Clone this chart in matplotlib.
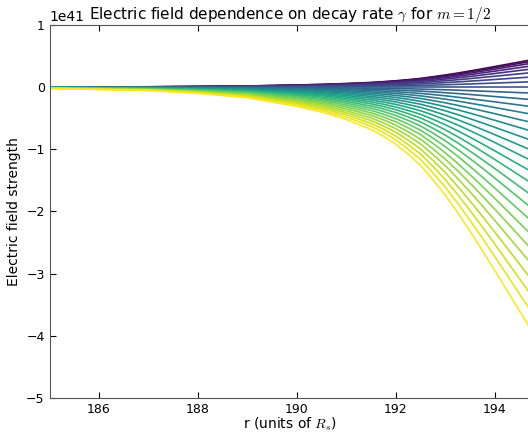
import matplotlib
matplotlib.use("Agg")
import matplotlib.pyplot as plt
import numpy as np

# radius sample points (units of R_s)
r_points = [185, 187, 188, 189, 190, 190.5, 191, 191.5, 191.75, 192, 192.25, 192.5, 192.75,
            193, 193.25, 193.5, 193.75, 194, 194.5, 195]

# field strength (x 1e41) of each curve, one list per radius, curves ordered by decay rate
field_r185 = [0.002, 0.002, 0.002, 0.002, 0.001, 0.001, 0.001, 0.000, 0.0, -0.000, -0.001, -0.002, -0.002, -0.003, -0.004,
              -0.004, -0.005, -0.006, -0.007, -0.008, -0.009, -0.010, -0.011, -0.012, -0.013, -0.015, -0.016, -0.017, -0.019, -0.020]
field_r187 = [0.006, 0.006, 0.005, 0.005, 0.004, 0.003, 0.002, 0.001, 0.0, -0.001, -0.003, -0.004, -0.006, -0.008, -0.010,
              -0.012, -0.014, -0.017, -0.019, -0.022, -0.024, -0.027, -0.030, -0.033, -0.037, -0.040, -0.043, -0.047, -0.051, -0.055]
field_r188 = [0.011, 0.011, 0.010, 0.009, 0.007, 0.006, 0.004, 0.002, 0.0, -0.002, -0.005, -0.008, -0.011, -0.014, -0.018,
              -0.022, -0.026, -0.030, -0.035, -0.039, -0.044, -0.050, -0.055, -0.061, -0.067, -0.073, -0.079, -0.086, -0.092, -0.100]
field_r189 = [0.019, 0.018, 0.017, 0.015, 0.013, 0.010, 0.007, 0.004, 0.0, -0.004, -0.009, -0.014, -0.019, -0.025, -0.031,
              -0.037, -0.044, -0.051, -0.059, -0.067, -0.075, -0.084, -0.094, -0.103, -0.113, -0.124, -0.134, -0.145, -0.157, -0.170]
field_r190 = [0.035, 0.033, 0.030, 0.027, 0.023, 0.018, 0.013, 0.007, 0.0, -0.008, -0.016, -0.025, -0.034, -0.045, -0.056,
              -0.068, -0.080, -0.093, -0.107, -0.122, -0.137, -0.153, -0.170, -0.188, -0.206, -0.225, -0.244, -0.264, -0.286, -0.310]
field_r190_5 = [0.045, 0.043, 0.039, 0.035, 0.030, 0.024, 0.017, 0.009, 0.0, -0.010, -0.020, -0.032, -0.044, -0.058, -0.072,
                -0.088, -0.104, -0.121, -0.139, -0.158, -0.178, -0.198, -0.220, -0.243, -0.266, -0.291, -0.316, -0.343, -0.370, -0.400]
field_r191 = [0.059, 0.055, 0.051, 0.046, 0.039, 0.031, 0.022, 0.012, 0.0, -0.013, -0.027, -0.042, -0.058, -0.075, -0.094,
              -0.114, -0.135, -0.157, -0.181, -0.206, -0.232, -0.259, -0.287, -0.316, -0.347, -0.379, -0.412, -0.446, -0.482, -0.520]
field_r191_5 = [0.076, 0.072, 0.067, 0.059, 0.051, 0.040, 0.029, 0.015, 0.0, -0.017, -0.035, -0.054, -0.076, -0.098, -0.123,
                -0.149, -0.176, -0.205, -0.236, -0.268, -0.302, -0.337, -0.374, -0.413, -0.452, -0.494, -0.537, -0.582, -0.628, -0.680]
field_r191_75 = [0.089, 0.084, 0.078, 0.069, 0.059, 0.047, 0.033, 0.018, 0.0, -0.019, -0.040, -0.063, -0.088, -0.114, -0.143,
                 -0.173, -0.205, -0.239, -0.275, -0.312, -0.351, -0.392, -0.435, -0.480, -0.526, -0.575, -0.625, -0.677, -0.731, -0.790]
field_r192 = [0.103, 0.098, 0.090, 0.080, 0.069, 0.055, 0.039, 0.020, 0.0, -0.022, -0.047, -0.074, -0.102, -0.133, -0.166,
              -0.201, -0.238, -0.278, -0.319, -0.362, -0.408, -0.456, -0.506, -0.558, -0.612, -0.668, -0.726, -0.787, -0.849, -0.920]
field_r192_25 = [0.121, 0.115, 0.106, 0.095, 0.081, 0.064, 0.045, 0.024, 0.0, -0.026, -0.055, -0.086, -0.120, -0.156, -0.195,
                 -0.236, -0.280, -0.326, -0.375, -0.426, -0.480, -0.536, -0.595, -0.656, -0.719, -0.785, -0.854, -0.925, -0.999, -1.080]
field_r192_5 = [0.141, 0.134, 0.124, 0.110, 0.094, 0.075, 0.053, 0.028, 0.0, -0.031, -0.064, -0.101, -0.140, -0.182, -0.228,
                -0.275, -0.326, -0.380, -0.437, -0.497, -0.559, -0.625, -0.693, -0.764, -0.838, -0.915, -0.995, -1.078, -1.163, -1.260]
field_r192_75 = [0.168, 0.159, 0.146, 0.130, 0.111, 0.089, 0.063, 0.033, 0.0, -0.036, -0.076, -0.119, -0.166, -0.216, -0.269,
                 -0.326, -0.386, -0.450, -0.518, -0.588, -0.662, -0.740, -0.820, -0.905, -0.992, -1.084, -1.178, -1.276, -1.378, -1.490]
field_r193 = [0.196, 0.185, 0.171, 0.152, 0.130, 0.104, 0.073, 0.039, 0.0, -0.042, -0.089, -0.139, -0.193, -0.252, -0.315,
              -0.381, -0.451, -0.526, -0.605, -0.687, -0.773, -0.864, -0.958, -1.057, -1.160, -1.266, -1.376, -1.491, -1.610, -1.740]
field_r193_25 = [0.227, 0.215, 0.198, 0.177, 0.151, 0.120, 0.085, 0.045, 0.0, -0.049, -0.103, -0.162, -0.224, -0.293, -0.365,
                 -0.442, -0.524, -0.610, -0.702, -0.797, -0.897, -1.003, -1.112, -1.227, -1.345, -1.469, -1.597, -1.730, -1.868, -2.020]
field_r193_5 = [0.261, 0.247, 0.228, 0.203, 0.173, 0.138, 0.097, 0.052, 0.0, -0.056, -0.118, -0.186, -0.258, -0.336, -0.419,
                -0.508, -0.602, -0.701, -0.806, -0.915, -1.031, -1.151, -1.277, -1.409, -1.545, -1.687, -1.834, -1.987, -2.145, -2.320]
field_r193_75 = [0.296, 0.280, 0.258, 0.230, 0.196, 0.157, 0.110, 0.059, 0.0, -0.064, -0.134, -0.211, -0.292, -0.381, -0.476,
                 -0.576, -0.682, -0.794, -0.914, -1.038, -1.168, -1.305, -1.448, -1.597, -1.752, -1.912, -2.079, -2.252, -2.432, -2.630]
field_r194 = [0.332, 0.314, 0.290, 0.258, 0.220, 0.176, 0.124, 0.066, 0.0, -0.072, -0.151, -0.236, -0.328, -0.427, -0.533,
              -0.646, -0.765, -0.891, -1.025, -1.164, -1.310, -1.464, -1.624, -1.791, -1.964, -2.145, -2.332, -2.526, -2.727, -2.950]
field_r194_5 = [0.405, 0.383, 0.354, 0.315, 0.269, 0.215, 0.151, 0.080, 0.0, -0.088, -0.184, -0.288, -0.400, -0.522, -0.651,
                -0.788, -0.934, -1.088, -1.251, -1.421, -1.600, -1.788, -1.983, -2.187, -2.399, -2.619, -2.848, -3.085, -3.330, -3.600]
field_r195 = [0.478, 0.452, 0.417, 0.372, 0.317, 0.253, 0.178, 0.095, 0.0, -0.103, -0.217, -0.340, -0.472, -0.615, -0.768,
              -0.930, -1.102, -1.284, -1.476, -1.677, -1.888, -2.110, -2.340, -2.581, -2.831, -3.091, -3.360, -3.640, -3.929, -4.250]

SCALE = 1e41

plt.rcParams["font.family"] = ["DejaVu Sans"]
plt.rcParams["mathtext.fontset"] = "cm"
plt.rcParams["xtick.direction"] = "in"
plt.rcParams["ytick.direction"] = "in"
plt.rcParams["xtick.top"] = True
plt.rcParams["ytick.right"] = False


def main() -> None:
    columns = [field_r185, field_r187, field_r188, field_r189, field_r190, field_r190_5, field_r191,
               field_r191_5, field_r191_75, field_r192, field_r192_25, field_r192_5, field_r192_75,
               field_r193, field_r193_25, field_r193_5, field_r193_75, field_r194, field_r194_5, field_r195]
    table = np.array(columns).T * SCALE  # rows = curves
    colors = plt.cm.viridis(np.linspace(0, 1, table.shape[0]))

    fig = plt.figure(figsize=(5.28, 4.33), dpi=100)
    ax = fig.add_axes([49.5 / 528, 35 / 433, 481 / 528, 373 / 433])

    for values, color in zip(table, colors):
        ax.plot(r_points, values, color=color, linewidth=1.2)

    ax.set_xlim(185, 194.72)
    ax.set_ylim(-5 * SCALE, 1 * SCALE)
    ax.set_xticks([186, 188, 190, 192, 194])
    ax.tick_params(labelsize=9, length=4, width=0.8)
    for spine in ax.spines.values():
        spine.set_color("#555555")
    ax.spines["right"].set_visible(False)
    ax.set_xlabel(r"r (units of $R_s$)", fontsize=10, labelpad=0)
    ax.set_ylabel("Electric field strength", fontsize=10)
    ax.set_title(r"Electric field dependence on decay rate $\gamma$ for $m=1/2$", fontsize=11, pad=2)

    fig.savefig("out.png", dpi=100)


if __name__ == "__main__":
    main()
